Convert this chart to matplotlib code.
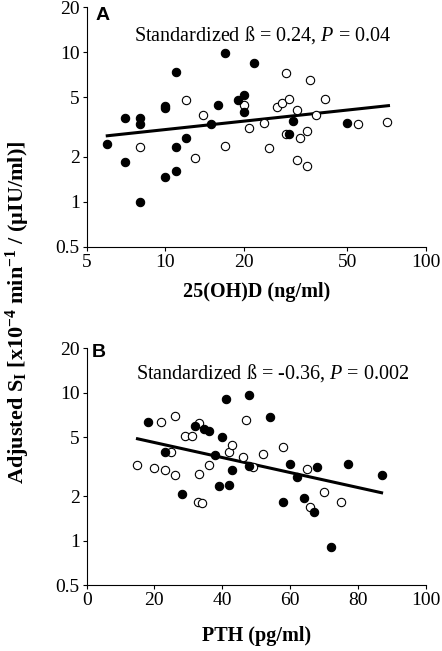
import matplotlib
matplotlib.use("Agg")
import matplotlib.pyplot as plt
from matplotlib.ticker import FixedLocator, NullLocator, FixedFormatter

plt.rcParams['font.family'] = ['Liberation Serif', 'DejaVu Serif']
plt.rcParams['mathtext.fontset'] = 'custom'
plt.rcParams['mathtext.rm'] = 'Liberation Serif'
plt.rcParams['mathtext.it'] = 'Liberation Serif:italic'
plt.rcParams['mathtext.bf'] = 'Liberation Serif:bold'

# ── panel A data: 25(OH)D vs adjusted SI ─────────────────────────────────────
vitd_filled_x = [6, 7, 7, 8, 8, 8, 10, 10, 10, 11, 11, 11, 12, 16, 15, 17,
                 19, 20, 20, 22, 31, 30, 50]
vitd_filled_y = [2.42, 1.85, 3.63, 3.65, 3.31, 0.99, 4.39, 4.25, 1.47, 7.33,
                 2.34, 1.60, 2.67, 4.42, 3.29, 9.82, 4.76, 5.17, 3.98, 8.46,
                 3.48, 2.84, 3.36]
vitd_open_x = [8, 12, 13, 14, 17, 20, 21, 24, 25, 27, 28, 29, 30, 29, 32, 32,
               33, 35, 35, 36, 38, 41, 55, 71]
vitd_open_y = [2.32, 4.76, 1.95, 3.80, 2.37, 4.42, 3.13, 3.34, 2.30, 4.32,
               4.59, 7.26, 4.84, 2.85, 4.08, 1.91, 2.65, 2.97, 1.73, 6.51,
               3.82, 4.89, 3.32, 3.41]
vitd_fit_x = [6, 72]
vitd_fit_y = [2.76, 4.39]

# ── panel B data: PTH vs adjusted SI ─────────────────────────────────────────
pth_filled_x = [18, 23, 28, 32, 34.6, 36, 38, 39, 40, 41, 42, 43, 48, 48, 54,
                58, 60, 62, 64, 67, 68, 72, 77, 87]
pth_filled_y = [6.34, 3.95, 2.07, 5.92, 5.65, 5.51, 3.81, 2.35, 5.02, 9.06,
                2.38, 3.00, 3.21, 9.74, 6.88, 1.83, 3.31, 2.71, 1.93, 1.56,
                3.13, 0.91, 3.30, 2.79]
pth_open_x = [15, 20, 22, 23, 26, 26, 25, 29, 31, 33, 33, 32.8, 34, 36, 42,
              43, 46, 47, 49, 52, 58, 65, 66, 70, 75]
pth_open_y = [3.23, 3.10, 6.34, 2.99, 6.96, 2.79, 3.95, 5.07, 5.07, 6.21,
              2.82, 1.82, 1.80, 3.26, 3.95, 4.43, 3.69, 6.60, 3.13, 3.87,
              4.27, 3.07, 1.70, 2.15, 1.83]
pth_fit_x = [15, 87]
pth_fit_y = [4.89, 2.11]

y_ticks = [0.5, 1, 2, 5, 10, 20]
y_labels = ['0.5', '1', '2', '5', '10', '20']


def style_axes(ax):
    ax.set_yscale('log')
    ax.set_ylim(0.5, 20)
    ax.yaxis.set_major_locator(FixedLocator(y_ticks))
    ax.yaxis.set_major_formatter(FixedFormatter(y_labels))
    ax.yaxis.set_minor_locator(NullLocator())
    ax.spines['top'].set_visible(False)
    ax.spines['right'].set_visible(False)
    ax.spines['left'].set_linewidth(0.8)
    ax.spines['bottom'].set_linewidth(0.8)
    ax.tick_params(direction='out', length=3, width=0.8, labelsize=14,
                   pad=2)


def draw_points(ax, fx, fy, ox, oy, lx, ly):
    ax.plot(lx, ly, color='black', lw=2.2, zorder=2)
    ax.scatter(ox, oy, s=36, facecolor='white', edgecolor='black',
               linewidth=0.8, zorder=3, clip_on=False)
    ax.scatter(fx, fy, s=36, facecolor='black', edgecolor='black',
               linewidth=0.8, zorder=4, clip_on=False)


fig = plt.figure(figsize=(4.42, 6.51), dpi=100)

# ── panel A ──────────────────────────────────────────────────────────────────
ax1 = fig.add_axes([0.196, 0.621, 0.767, 0.368])
style_axes(ax1)
ax1.set_xscale('log')
ax1.set_xlim(5, 100)
ax1.xaxis.set_major_locator(FixedLocator([5, 10, 20, 50, 100]))
ax1.xaxis.set_major_formatter(FixedFormatter(['5', '10', '20', '50', '100']))
ax1.xaxis.set_minor_locator(NullLocator())
draw_points(ax1, vitd_filled_x, vitd_filled_y, vitd_open_x, vitd_open_y,
            vitd_fit_x, vitd_fit_y)
ax1.set_xlabel('25(OH)D (ng/ml)', fontsize=14.5, fontweight='bold',
               labelpad=8)
ax1.text(0.025, 1.0, 'A', transform=ax1.transAxes, fontsize=14,
         fontweight='bold', family='Liberation Sans', va='top', ha='left')
ax1.text(0.52, 0.884, r'Standardized ß = 0.24, $P$ = 0.04',
         transform=ax1.transAxes, fontsize=14.5, ha='center', va='center')

# ── panel B ──────────────────────────────────────────────────────────────────
ax2 = fig.add_axes([0.196, 0.101, 0.767, 0.364])
style_axes(ax2)
ax2.set_xlim(0, 100)
ax2.xaxis.set_major_locator(FixedLocator([0, 20, 40, 60, 80, 100]))
draw_points(ax2, pth_filled_x, pth_filled_y, pth_open_x, pth_open_y,
            pth_fit_x, pth_fit_y)
ax2.set_xlabel('PTH (pg/ml)', fontsize=14.5, fontweight='bold', labelpad=12)
ax2.text(0.016, 1.02, 'B', transform=ax2.transAxes, fontsize=14,
         fontweight='bold', family='Liberation Sans', va='top', ha='left')
ax2.text(0.55, 0.895, r'Standardized ß = -0.36, $P$ = 0.002',
         transform=ax2.transAxes, fontsize=14.5, ha='center', va='center')

# shared y label
fig.text(0.04, 1 - 312 / 651,
         r'Adjusted S$_\mathbf{I}$ [x10$^\mathbf{-4}$ min$^\mathbf{-1}$ / (µIU/ml)]',
         rotation=90, fontsize=16, fontweight='bold', ha='center', va='center')

fig.savefig('out.png', dpi=100)
